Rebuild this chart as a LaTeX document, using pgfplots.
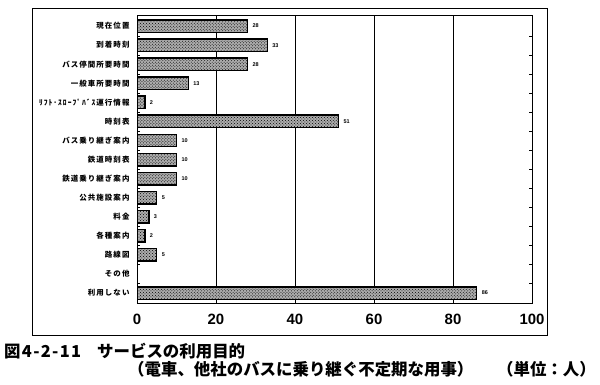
\documentclass[border=0pt]{standalone}
\usepackage{fontspec}
\setmainfont{Liberation Sans}
\newfontfamily\jp{Noto Sans CJK JP}
\newfontfamily\jpnum{Noto Sans CJK JP}[LetterSpace=8]
\newfontfamily\jplab{Noto Sans CJK JP}[LetterSpace=14]
\usepackage{pgfplots}
\pgfplotsset{compat=1.18}
\usetikzlibrary{patterns}
\begin{document}
\begin{tikzpicture}
\path (0bp,0bp) rectangle (600bp,385bp);
\draw[line width=0.8pt] (32bp,377bp) rectangle (547bp,50bp);
\begin{axis}[
  at={(137bp,82bp)}, anchor=south west,
  width=395bp, height=288bp, scale only axis,
  xmin=0, xmax=100,
  ymin=-0.58, ymax=14.52, y dir=reverse,
  xtick={0,20,40,60,80,100},
  xmajorgrids, grid style={black, line width=0.6pt},
  ytick={0,...,14},
  yticklabels={現在位置,到着時刻,バス停間所要時間,一般車所要時間,ﾘﾌﾄ･ｽﾛｰﾌﾟﾊﾞｽ運行情報,時刻表,バス乗り継ぎ案内,鉄道時刻表,鉄道乗り継ぎ案内,公共施設案内,料金,各種案内,路線図,その他,利用しない},
  yticklabel style={font=\jplab\bfseries\fontsize{7.5}{8}\selectfont, xshift=-4bp},
  xticklabel style={font=\bfseries\fontsize{15}{15}\selectfont, yshift=-8bp},
  /pgf/number format/assume math mode=true,
  minor ytick={0.5,1.5,...,13.5},
  major tick length=0pt, minor tick length=3bp,
  tick style={black},
  axis line style={black, line width=0.8pt},
]
\addplot[xbar, bar width=0.65, fill=gray!65, draw=black, line width=1.5pt,
  postaction={pattern=crosshatch dots, pattern color=black},
  nodes near coords, every node near coord/.append style={font=\bfseries\fontsize{5.5}{6}\selectfont, xshift=1bp}]
coordinates {(28,0) (33,1) (28,2) (13,3) (2,4) (51,5) (10,6) (10,7) (10,8) (5,9) (3,10) (2,11) (5,12) (86,14)};
\end{axis}
\node[anchor=base west, font=\jpnum\bfseries\fontsize{16.5}{16.5}\selectfont, inner sep=0] at (4bp,28bp) {図4-2-11};
\node[anchor=base west, font=\jp\bfseries\fontsize{16.5}{16.5}\selectfont, inner sep=0] at (97bp,28bp) {サービスの利用目的};
\node[anchor=base west, font=\jp\bfseries\fontsize{16.5}{16.5}\selectfont, inner sep=0] at (128bp,10bp) {（電車、他社のバスに乗り継ぐ不定期な用事）};
\node[anchor=base east, font=\jp\bfseries\fontsize{16.5}{16.5}\selectfont, inner sep=0] at (596bp,10bp) {（単位：人）};
\end{tikzpicture}
\end{document}
